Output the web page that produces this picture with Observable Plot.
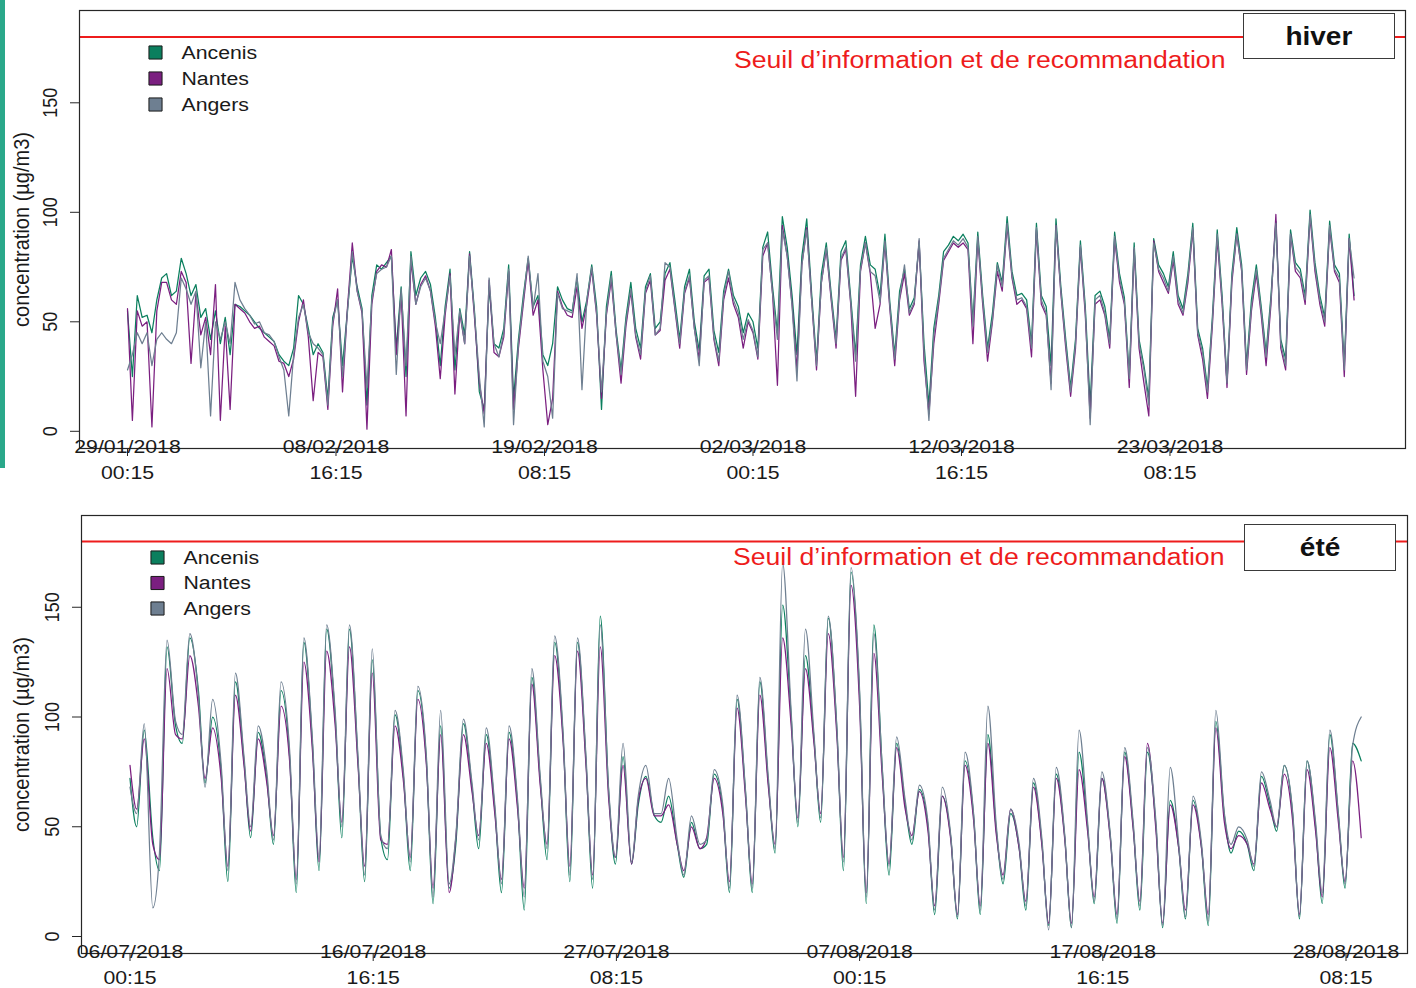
<!DOCTYPE html>
<html>
<head>
<meta charset="utf-8">
<script src="https://cdn.jsdelivr.net/npm/d3@7"></script>
<script src="https://cdn.jsdelivr.net/npm/@observablehq/plot@0.6"></script>
<style>
  body { margin: 0; background: #fff; }
  #page { position: relative; width: 1416px; height: 988px; overflow: hidden; background: #fff;
          font-family: Arial, "Liberation Sans", sans-serif; }
  #bar { position: absolute; left: 0; top: 0; width: 5px; height: 468px; background: #2aa88a; }
  .panel { position: absolute; left: 0; }
  .season { position: absolute; background: #fff; border: 1.5px solid #3a3a3a; box-sizing: border-box;
            display: flex; align-items: center; justify-content: center; }
  .season span { display: inline-block; font-weight: bold; font-size: 25px; color: #111; transform: scaleX(1.12); }
</style>
</head>
<body>
<div id="page">
  <div id="bar"></div>
</div>
<script>
// Stations and colours
const seriesNames = ["Ancenis", "Nantes", "Angers"];
const seriesColors = ["#0b7f5e", "#7b1f80", "#6e7f91"];

const thresholdValue = 180;
const thresholdLabel = "Seuil d’information et de recommandation";
const yTickValues = [0, 50, 100, 150];
const yTitle = "concentration (µg/m3)";

// Winter: one value every 6 hours from 29/01/2018 00:15 (four per day)
const hiverLabel = "hiver";
const hiverStart = "2018-01-29T00:15:00Z";
const hiverStepHours = 6;
const hiverTicks = ["2018-01-29T00:15:00Z", "2018-02-08T16:15:00Z", "2018-02-19T08:15:00Z",
                    "2018-03-02T00:15:00Z", "2018-03-12T16:15:00Z", "2018-03-23T08:15:00Z"];
const hiverAncenis = [
  55,25,62,52, 53,45,60,70, 72,62,64,79, 72,62,67,52, 56,42,55,40, 52,35,58,57, 55,53,50,47,
  45,43,41,35, 32,30,38,62, 58,47,35,40, 36,15,52,60, 30,55,80,66, 56,12,62,76, 74,77,80,38,
  66,25,82,62, 70,73,67,52, 30,57,74,28, 56,44,82,55, 18,10,66,40, 38,47,76,15, 42,62,79,57,
  62,35,30,40, 66,60,56,55, 70,50,60,76, 57,10,57,73, 46,28,52,68, 47,38,66,72, 47,50,72,77,
  60,42,66,74, 50,37,71,74, 46,36,64,74, 62,57,45,54, 50,38,84,91, 66,45,98,84, 62,35,80,97,
  63,32,72,86, 63,42,82,87, 61,35,76,89, 76,74,62,90, 59,35,64,74, 56,61,86,40, 12,47,62,82,
  85,89,87,90, 86,50,91,62, 38,54,77,68, 98,73,62,63, 60,40,95,62, 57,30,97,66, 42,20,42,87,
  57,12,62,64, 57,42,91,72, 61,25,86,42, 30,15,88,76, 72,66,82,62, 56,72,95,47, 38,20,52,92,
  62,22,72,93, 76,30,60,76, 57,36,62,96, 42,33,92,77, 74,62,101,77, 62,52,96,76, 72,30,90,62
];
const hiverNantes = [
  56,5,55,48, 50,2,55,68, 68,60,58,73, 68,31,63,44, 52,35,67,5, 48,10,58,56, 54,50,47,48,
  43,41,39,32, 31,25,33,50, 60,43,14,36, 34,10,48,65, 18,56,86,64, 54,1,58,73, 76,75,83,35,
  63,7,78,58, 67,71,64,48, 24,53,72,17, 54,40,81,52, 22,8,69,36, 34,43,73,10, 38,58,78,53,
  60,28,3,15, 64,57,53,52, 66,47,58,74, 53,15,53,69, 44,22,48,64, 43,33,63,69, 44,46,69,74,
  56,38,63,70, 47,33,68,70, 42,30,60,70, 58,52,38,50, 45,33,80,86, 63,21,94,80, 58,28,76,93,
  60,28,68,83, 60,38,78,83, 58,16,73,86, 72,47,58,86, 56,30,60,72, 53,58,87,32, 8,40,58,78,
  82,86,84,86, 83,40,88,58, 32,50,73,64, 94,70,58,60, 56,34,92,58, 53,22,94,63, 38,16,38,84,
  53,6,58,60, 53,38,88,68, 58,20,83,38, 22,7,87,73, 68,63,78,58, 53,68,92,44, 33,15,48,88,
  58,20,68,90, 73,26,55,72, 53,30,58,99, 38,28,90,73, 70,58,98,73, 58,48,93,73, 68,25,88,60
];
const hiverAngers = [
  28,35,45,40, 45,30,42,45, 42,40,45,70, 65,58,64,29, 50,7,50,42, 50,40,68,60, 56,53,49,50,
  45,44,41,34, 28,7,35,52, 58,45,40,38, 35,12,50,60, 25,54,82,64, 55,20,60,72, 74,75,80,26,
  65,30,80,58, 66,70,64,50, 40,55,71,35, 55,40,80,54, 25,2,70,40, 34,45,74,3, 40,60,80,56,
  72,32,25,6, 63,56,55,54, 72,19,60,75, 54,18,54,71, 44,26,50,65, 44,35,64,71, 44,47,77,75,
  57,40,64,71, 47,30,69,71, 43,32,62,73, 60,54,42,51, 46,34,83,86, 63,42,92,80, 57,23,76,92,
  60,30,68,84, 61,40,79,84, 59,32,74,86, 73,71,59,87, 57,33,61,76, 54,59,88,36, 5,44,60,79,
  83,87,85,88, 84,48,89,60, 36,51,76,66, 95,71,60,61, 57,38,93,60, 54,19,94,64, 40,18,40,85,
  55,3,60,62, 54,40,89,70, 59,24,84,40, 28,12,86,74, 70,64,80,60, 54,70,93,45, 36,18,50,90,
  60,22,70,90, 74,28,57,74, 55,34,60,95, 40,30,90,75, 72,60,99,75, 60,50,94,74, 70,28,88,70
];

// Summer: per day, values at 00h, 07h and 15h from 06/07/2018, then the closing value
const eteLabel = "été";
const eteStart = "2018-07-06T00:15:00Z";
const eteHours = [0, 7, 15];
const eteTicks = ["2018-07-06T00:15:00Z", "2018-07-16T16:15:00Z", "2018-07-27T08:15:00Z",
                  "2018-08-07T00:15:00Z", "2018-08-17T16:15:00Z", "2018-08-28T08:15:00Z"];
const eteAncenis = [
  72,50,94, 45,30,132, 96,88,136, 112,70,100, 75,25,116, 80,45,93, 72,42,112, 82,20,134,
  88,30,140, 100,45,140, 80,25,126, 45,35,101, 72,30,112, 80,15,96, 22,42,97, 68,40,92,
  58,20,93, 60,12,118, 70,35,134, 90,25,134, 80,22,146, 65,33,82, 33,60,73, 55,52,64,
  42,27,52, 40,42,74, 58,20,108, 65,20,116, 70,38,151, 100,50,128, 90,52,145, 95,30,166,
  110,15,142, 75,28,88, 60,42,67, 50,10,64, 45,8,80, 55,10,92, 48,24,56, 40,12,70,
  42,5,74, 45,4,84, 50,15,72, 45,6,84, 50,12,84, 50,4,62, 40,8,62, 40,5,98,
  55,38,48, 42,30,73, 60,48,78, 55,8,80, 50,15,92, 55,22,88,
  80
];
const eteNantes = [
  78,58,90, 42,35,122, 92,90,128, 105,72,95, 72,32,110, 78,48,90, 70,46,105, 80,26,125,
  85,34,130, 96,52,132, 78,32,120, 44,42,96, 70,36,108, 78,22,92, 20,45,92, 66,46,88,
  56,26,90, 58,22,115, 68,42,128, 88,32,130, 78,28,132, 62,36,78, 33,62,72, 55,55,60,
  42,30,50, 40,45,72, 56,25,104, 63,24,110, 68,42,136, 96,54,122, 88,56,138, 92,36,160,
  105,20,129, 72,33,86, 58,46,66, 48,14,64, 44,10,78, 53,14,88, 46,28,58, 40,16,68,
  41,6,72, 44,6,76, 48,18,72, 44,10,82, 49,16,88, 48,6,60, 40,12,60, 40,10,95,
  52,40,46, 42,33,70, 58,50,74, 52,10,76, 48,18,86, 52,25,80,
  45
];
const eteAngers = [
  68,56,97, 13,38,135, 98,92,138, 110,68,108, 78,30,120, 82,50,96, 75,44,116, 85,24,136,
  90,36,142, 102,50,142, 82,28,131, 46,40,103, 74,34,114, 82,18,103, 24,46,99, 70,44,95,
  60,24,96, 62,18,122, 72,40,137, 92,28,136, 82,26,142, 66,36,88, 34,64,78, 56,56,72,
  44,28,55, 42,44,76, 60,22,110, 66,22,118, 72,40,170, 102,52,140, 92,54,146, 96,34,168,
  112,18,138, 76,32,91, 62,44,69, 52,12,68, 46,9,84, 56,12,105, 50,26,58, 42,14,72,
  44,3,77, 46,4,94, 52,16,75, 46,8,86, 52,14,86, 52,5,77, 42,9,64, 42,7,103,
  56,42,50, 44,32,75, 62,50,78, 56,9,80, 52,20,94, 56,24,87,
  100
];

const HOUR = 3600e3;
const FONT = 'Arial, "Liberation Sans", sans-serif';
const TEXT_STRETCH = 1.12;

function hiverRows() {
  const t0 = +new Date(hiverStart);
  return [hiverAncenis, hiverNantes, hiverAngers].flatMap((vals, s) =>
    vals.map((v, i) => ({series: seriesNames[s], date: new Date(t0 + i * hiverStepHours * HOUR), value: v})));
}

function eteRows() {
  const t0 = +new Date(eteStart);
  const per = eteHours.length;
  return [eteAncenis, eteNantes, eteAngers].flatMap((vals, s) =>
    vals.map((v, i) => {
      const day = Math.floor(i / per), h = eteHours[i % per];
      return {series: seriesNames[s], date: new Date(t0 + (day * 24 + h) * HOUR), value: v};
    }));
}

const pad = n => String(n).padStart(2, "0");
const fmtDate = d => `${pad(d.getUTCDate())}/${pad(d.getUTCMonth() + 1)}/${d.getUTCFullYear()}`;
const fmtTime = d => `${pad(d.getUTCHours())}:${pad(d.getUTCMinutes())}`;

function buildPanel(cfg) {
  const ticks = cfg.ticks.map(t => new Date(t));
  const t0 = +ticks[0];
  const xDomain = [
    new Date(t0 + (cfg.frameLeft - cfg.tickX) / cfg.pxPerHour * HOUR),
    new Date(t0 + (cfg.frameRight - cfg.tickX) / cfg.pxPerHour * HOUR)
  ];
  const yDomain = [(cfg.zeroY - cfg.frameBottom) / cfg.pxPerUnit, (cfg.zeroY - cfg.frameTop) / cfg.pxPerUnit];
  const ink = "#1a1a1a";

  const legendMarks = seriesNames.flatMap((name, i) => [
    Plot.dot([name], {frameAnchor: "top-left", dx: cfg.legendDx, dy: cfg.legendDy + i * cfg.legendStep,
      symbol: "square", r: 7.4, fill: seriesColors[i], stroke: "#1a1a1a", strokeWidth: 1, ariaLabel: "legend-swatch"}),
    Plot.text([name], {frameAnchor: "top-left", dx: cfg.legendDx + 26, dy: cfg.legendDy + i * cfg.legendStep,
      textAnchor: "start", lineAnchor: "middle", fontSize: 19, fill: ink, text: d => d})
  ]);

  const svg = Plot.plot({
    width: 1416,
    height: cfg.svgHeight,
    marginLeft: cfg.frameLeft,
    marginRight: 1416 - cfg.frameRight,
    marginTop: cfg.frameTop - cfg.svgTop,
    marginBottom: cfg.svgTop + cfg.svgHeight - cfg.frameBottom,
    style: {fontFamily: FONT, background: "transparent", color: ink, overflow: "visible"},
    x: {type: "utc", domain: xDomain},
    y: {domain: yDomain},
    color: {domain: seriesNames, range: seriesColors},
    marks: [
      Plot.ruleY([thresholdValue], {stroke: "#ee1c1c", strokeWidth: 2}),
      Plot.line(cfg.rows, {x: "date", y: "value", z: "series", stroke: "series", strokeWidth: 1.25, curve: cfg.curve}),
      Plot.frame({stroke: "#262626", strokeWidth: 1.2}),
      Plot.axisY({ticks: yTickValues, tickSize: 9, tickFormat: () => "", fill: "none", label: null, stroke: "#262626"}),
      Plot.axisX({ticks: ticks, tickSize: 8, tickFormat: () => "", fill: "none", label: null, stroke: "#262626"}),
      Plot.text(yTickValues, {y: d => d, frameAnchor: "left", dx: cfg.yLabelDx, rotate: -90,
        textAnchor: "middle", lineAnchor: "middle", text: d => String(d), fontSize: 18, fill: ink}),
      Plot.text([yTitle], {frameAnchor: "left", dx: cfg.yTitleDx, rotate: -90, textAnchor: "middle",
        lineAnchor: "middle", fontSize: 20, fill: ink, text: d => d}),
      Plot.text(ticks, {x: d => d, frameAnchor: "bottom", dy: cfg.dateDy, lineAnchor: "middle",
        text: fmtDate, fontSize: 19, fill: ink}),
      Plot.text(ticks, {x: d => d, frameAnchor: "bottom", dy: cfg.timeDy, lineAnchor: "middle",
        text: fmtTime, fontSize: 19, fill: ink}),
      Plot.text([thresholdLabel], {frameAnchor: "top-right", dx: cfg.thrDx, dy: cfg.thrDy, textAnchor: "end",
        lineAnchor: "middle", fontSize: 23.8, fill: "#ee1c1c", text: d => d}),
      ...legendMarks
    ]
  });

  // text in the figure is slightly wider than tall
  d3.select(svg).selectAll("text").each(function () {
    const tr = this.getAttribute("transform");
    if (tr && /^translate\(/.test(tr)) {
      this.setAttribute("transform", tr.replace(/^(translate\([^)]*\))/, `$1 scale(${TEXT_STRETCH},1)`));
    }
  });
  d3.select(svg).selectAll('g[aria-label="legend-swatch"] path').each(function () {
    const tr = this.getAttribute("transform");
    if (tr) this.setAttribute("transform", tr + " scale(1.15,1)");
  });

  const wrap = document.createElement("div");
  wrap.className = "panel";
  wrap.style.top = cfg.svgTop + "px";
  wrap.appendChild(svg);
  document.getElementById("page").appendChild(wrap);

  const box = document.createElement("div");
  box.className = "season";
  Object.assign(box.style, {left: cfg.box[0] + "px", top: cfg.box[1] + "px", width: cfg.box[2] + "px", height: cfg.box[3] + "px"});
  const span = document.createElement("span");
  span.textContent = cfg.label;
  box.appendChild(span);
  document.getElementById("page").appendChild(box);
}

buildPanel({
  rows: hiverRows(), ticks: hiverTicks, label: hiverLabel, curve: "linear",
  svgTop: 0, svgHeight: 490,
  frameLeft: 79, frameRight: 1405, frameTop: 10, frameBottom: 448,
  tickX: 127, pxPerHour: 0.81445, zeroY: 430.8, pxPerUnit: 2.19,
  legendDx: 76, legendDy: 42, legendStep: 26,
  yLabelDx: -29, yTitleDx: -58,
  dateDy: -2, timeDy: 24,
  thrDx: -180, thrDy: 50,
  box: [1243, 13, 152, 46]
});

buildPanel({
  rows: eteRows(), ticks: eteTicks, label: eteLabel, curve: "monotone-x",
  svgTop: 490, svgHeight: 498,
  frameLeft: 81, frameRight: 1407, frameTop: 515, frameBottom: 953,
  tickX: 129.5, pxPerHour: 0.95, zeroY: 936, pxPerUnit: 2.195,
  legendDx: 76, legendDy: 42, legendStep: 25.5,
  yLabelDx: -29, yTitleDx: -60,
  dateDy: -2, timeDy: 24,
  thrDx: -183, thrDy: 42,
  box: [1244, 524, 152, 47]
});
</script>
</body>
</html>
